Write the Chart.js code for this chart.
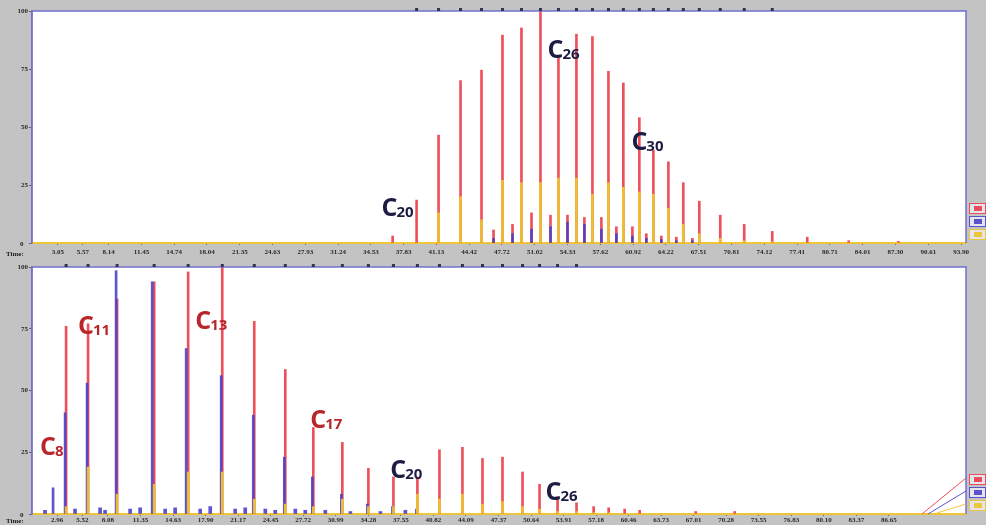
<!DOCTYPE html>
<html>
<head>
<meta charset="utf-8">
<script src="https://cdn.jsdelivr.net/npm/chart.js@4.4.0/dist/chart.umd.min.js"></script>
<style>
html, body { margin: 0; padding: 0; background: #c3c3c3; }
#wrap { width: 986px; height: 525px; position: relative; }
.box { position: absolute; left: 0; width: 986px; }
</style>
</head>
<body>
<div id="wrap">
  <div class="box" style="top:0;height:258px"><canvas id="topChart"></canvas></div>
  <div class="box" style="top:258px;height:267px"><canvas id="bottomChart"></canvas></div>
</div>
<script>
// ---- top trace ----
const topTicks = [3.05, 5.57, 8.14, 11.45, 14.74, 18.04, 21.35, 24.63, 27.93, 31.24, 34.53, 37.83, 41.13, 44.42,
  47.72, 51.02, 54.33, 57.62, 60.92, 64.22, 67.51, 70.81, 74.12, 77.41, 80.71, 84.01, 87.30, 90.61, 93.90];
const topTimes = [36.72, 39.13, 41.34, 43.55, 45.66, 47.77, 49.68, 51.59, 53.40, 55.21, 56.82, 58.43, 59.93,
  61.54, 62.95, 64.46, 65.96, 67.57, 69.68, 72.09, 74.91, 78.43, 82.6, 87.6];
const topRed = [3, 18.5, 46.5, 70, 74.5, 89.6, 92.7, 100, 80, 90, 89, 74, 69, 54, 40, 35, 26, 18, 12, 8, 5, 2.5, 1, 0.7];
const topYellow = [0, 0, 13, 20, 10, 27, 26, 26, 28, 28, 21, 26, 24, 22, 21, 15, 8, 4, 2, 1, 0.5, 0, 0, 0];
const topMinorTimes = [46.87, 48.78, 50.69, 52.60, 54.31, 56.01, 57.72, 59.23, 60.84, 62.24, 63.75, 65.26, 66.87];
const topMinorRed = [5.6, 8, 13, 12, 12, 11, 11, 7, 7, 4, 3, 2.5, 2];
const topMinorBlue = [2, 4, 6, 7, 9, 8, 6, 4, 3, 2, 1.5, 1, 1];

// ---- bottom trace ----
const bottomTicks = [2.96, 5.52, 8.08, 11.35, 14.63, 17.90, 21.17, 24.45, 27.72, 30.99, 34.28, 37.55, 40.82,
  44.09, 47.37, 50.64, 53.91, 57.18, 60.46, 63.73, 67.01, 70.28, 73.55, 76.83, 80.10, 83.37, 86.65];
const bottomTimes = [3.87, 6.08, 9.00, 12.73, 16.15, 19.58, 22.80, 25.92, 28.74, 31.66, 34.28, 36.80, 39.21,
  41.43, 43.74, 45.76, 47.77, 49.79, 51.50, 53.31, 55.22, 56.94, 58.45, 60.06, 61.57, 67.21, 71.13];
const bottomRed = [76, 77, 87, 94, 98, 100, 78, 58.5, 35, 29, 18.5, 15, 15, 26, 27, 22.5, 23, 17, 12, 7, 4.5, 3,
  2.5, 2, 1.5, 1, 1];
const bottomYellow = [3, 19, 8, 12, 17, 17, 6, 4, 3, 6, 3, 3, 8, 6, 8, 4, 5, 3, 2, 1, 1, 0.5, 0.5, 0, 0, 0, 0];
const bottomBlueTimes = [2.56, 3.77, 5.98, 8.90, 12.53, 15.95, 19.47, 22.70, 25.82, 28.64, 31.56, 34.18, 36.70, 39.11];
const bottomBlue = [10.6, 41, 53, 98.5, 94, 67, 56, 40, 23, 15, 8, 4, 3, 2];
const bottomNoiseTimes = [1.75, 4.77, 7.29, 7.79, 10.31, 11.32, 13.84, 14.84, 17.36, 18.37, 20.88, 21.89, 23.91,
  24.91, 26.93, 27.93, 29.95, 32.47, 35.49, 38.00];
const bottomNoise = [1.5, 2, 2.5, 1.5, 2, 2.5, 2, 2.5, 2, 3, 2, 2.5, 2, 1.5, 2, 1.5, 1.5, 1, 1, 1.5];

// peak labels: [time, level, subscript, colour]
const topLabels = [[35.61, 11.6, "20", "#1c1c44"], [52.30, 79.7, "26", "#1c1c44"], [60.74, 40, "30", "#1c1c44"]];
const bottomLabels = [[1.25, 24, "8", "#b8262a"], [5.07, 72.8, "11", "#b8262a"], [16.86, 74.8, "13", "#b8262a"],
  [28.44, 35, "17", "#b8262a"], [36.49, 14.6, "20", "#1c1c44"], [52.10, 5.7, "26", "#1c1c44"]];

const RED = "rgba(234, 56, 68, 0.88)";
const BLUE = "rgba(72, 62, 200, 0.88)";
const YELLOW = "rgba(238, 196, 48, 0.95)";
const FRAME = "#7272cc";

function pts(times, vals) {
  return times.map((t, i) => ({ x: t, y: vals[i] }));
}

const decor = {
  id: "decor",
  beforeDraw(chart) {
    const { ctx, chartArea: a } = chart;
    ctx.save();
    ctx.fillStyle = "#ffffff";
    ctx.fillRect(a.left, a.top, a.right - a.left, a.bottom - a.top);
    ctx.restore();
  },
  afterDraw(chart, args, opts) {
    const { ctx, chartArea: a } = chart;
    const xs = chart.scales.x, ys = chart.scales.y;
    ctx.save();
    // frame
    ctx.strokeStyle = FRAME;
    ctx.lineWidth = 1.5;
    ctx.beginPath();
    ctx.moveTo(a.left, a.bottom);
    ctx.lineTo(a.left, a.top);
    ctx.lineTo(a.right, a.top);
    ctx.lineTo(a.right, a.bottom);
    ctx.stroke();
    // peak markers on top edge
    ctx.fillStyle = "#333355";
    opts.marks.forEach((t) => {
      ctx.fillRect(xs.getPixelForValue(t) - 1.5, a.top - 3, 3, 3);
    });
    // Time: label
    ctx.fillStyle = "#222";
    ctx.font = "bold 7px 'Liberation Serif'";
    ctx.textBaseline = "middle";
    ctx.fillText("Time:", 6, opts.timeY);
    ctx.fillText("0", 20, a.bottom + 1);
    // legend stubs
    const cols = [RED, BLUE, YELLOW];
    cols.forEach((c, i) => {
      const y = a.bottom - 40 + i * 13;
      ctx.fillStyle = "#e4e4ec";
      ctx.fillRect(a.right + 3, y, 17, 11);
      ctx.strokeStyle = c;
      ctx.lineWidth = 1;
      ctx.strokeRect(a.right + 3.5, y + 0.5, 16, 10);
      ctx.fillStyle = c;
      ctx.fillRect(a.right + 8, y + 3, 8, 5);
    });
    if (opts.connectors) {
      cols.forEach((c, i) => {
        ctx.strokeStyle = c;
        ctx.lineWidth = 1;
        ctx.beginPath();
        ctx.moveTo(a.right - 44 + i * 6, a.bottom);
        ctx.lineTo(a.right, a.bottom - 36 + i * 13);
        ctx.stroke();
      });
    }
    // component labels
    opts.labels.forEach(([t, v, sub, col]) => {
      const x = xs.getPixelForValue(t), y = ys.getPixelForValue(v);
      ctx.fillStyle = col;
      ctx.textBaseline = "alphabetic";
      ctx.font = "bold 25px 'Open Sans'";
      ctx.fillText("C", x, y);
      const w = ctx.measureText("C").width;
      ctx.font = "bold 15px 'Open Sans'";
      ctx.fillText(sub, x + w - 1, y + 1);
    });
    ctx.restore();
  }
};

function makeChart(id, ticks, datasets, padTop, axisH, tickPad, timeY, labels, marks, connectors) {
  return new Chart(document.getElementById(id), {
    type: "bar",
    data: { datasets: datasets },
    plugins: [decor],
    options: {
      responsive: true,
      maintainAspectRatio: false,
      animation: false,
      layout: { padding: { top: padTop, right: 20, left: 0, bottom: 0 } },
      plugins: {
        legend: { display: false },
        tooltip: { enabled: false },
        decor: { labels: labels, marks: marks, timeY: timeY, connectors: connectors },
      },
      scales: {
        x: {
          type: "linear",
          offset: false,
          min: 0.44,
          max: 94.4,
          grid: { display: true, offset: false, drawOnChartArea: false, drawTicks: true, tickLength: 2, color: "#666" },
          border: { color: YELLOW, width: 2 },
          afterBuildTicks: (scale) => {
            scale.ticks = ticks.map((v) => ({ value: v }));
          },
          afterFit: (scale) => {
            scale.height = axisH;
          },
          ticks: {
            autoSkip: false,
            maxRotation: 0,
            padding: tickPad,
            color: "#2a2a2a",
            font: { family: "Liberation Serif", size: 7, weight: "bold" },
            callback: (v) => Number(v).toFixed(2),
          },
        },
        y: {
          min: 0,
          max: 100,
          grid: { display: true, drawOnChartArea: false, tickLength: 3, color: "#666" },
          border: { color: FRAME, width: 1.5 },
          afterFit: (scale) => {
            scale.width = 32;
          },
          ticks: {
            stepSize: 25,
            padding: 1,
            color: "#2a2a2a",
            font: { family: "Liberation Serif", size: 7, weight: "bold" },
            callback: (v) => (v === 0 ? "" : v),
          },
        },
      },
    },
  });
}

makeChart("topChart", topTicks, [
  { data: pts(topTimes, topYellow), backgroundColor: YELLOW, barThickness: 2, grouped: false, order: 1 },
  { data: pts(topMinorTimes, topMinorBlue), backgroundColor: BLUE, barThickness: 2, grouped: false, order: 2 },
  { data: pts(topMinorTimes, topMinorRed), backgroundColor: RED, barThickness: 2, grouped: false, order: 3 },
  { data: pts(topTimes, topRed), backgroundColor: RED, barThickness: 2, grouped: false, order: 4 },
], 11, 15, 3, 254, topLabels, topTimes.filter((t, i) => topRed[i] > 4), false);

makeChart("bottomChart", bottomTicks, [
  { data: pts(bottomTimes, bottomYellow), backgroundColor: YELLOW, barThickness: 2, grouped: false, order: 1 },
  { data: pts(bottomNoiseTimes, bottomNoise), backgroundColor: BLUE, barThickness: 3, grouped: false, order: 2 },
  { data: pts(bottomBlueTimes, bottomBlue), backgroundColor: BLUE, barThickness: 2, grouped: false, order: 3 },
  { data: pts(bottomTimes, bottomRed), backgroundColor: RED, barThickness: 2, grouped: false, order: 4 },
], 9, 11, 0, 263, bottomLabels, bottomTimes.filter((t, i) => bottomRed[i] > 4), true);
</script>
</body>
</html>
